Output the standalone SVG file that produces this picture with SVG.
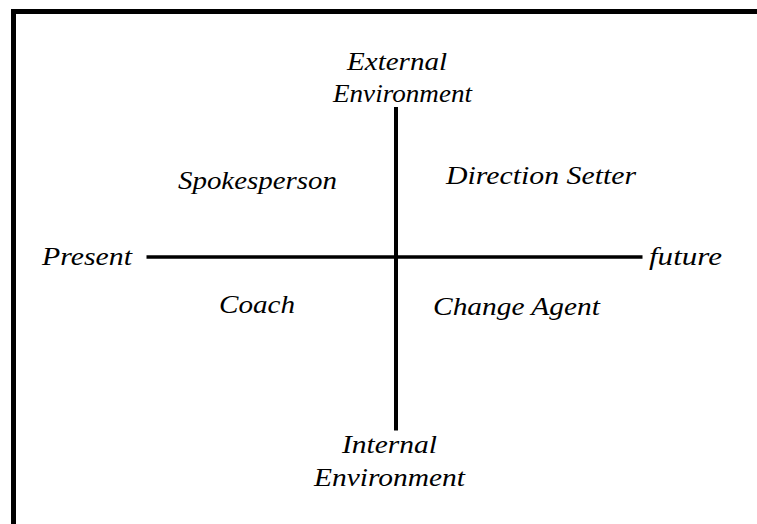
<svg xmlns="http://www.w3.org/2000/svg" width="757" height="524" viewBox="0 0 757 524">
  <style>
    .lbl { font-family: "Liberation Serif", "Times New Roman", serif; font-style: italic; font-size: 26px; fill: #000; }
    .axis { stroke: #000; fill: none; }
  </style>
  <rect width="757" height="524" fill="#fff"/>
  <!-- frame: top and left edges; right and bottom run past the canvas -->
  <path d="M13.5 530 V11.5 H765" fill="none" stroke="#000" stroke-width="5"/>

  <g id="axes">
    <line class="axis" x1="146.5" y1="257" x2="642.5" y2="257" stroke-width="3.6"/>
    <line class="axis" x1="396" y1="107" x2="396" y2="430.5" stroke-width="4"/>
  </g>

  <g id="external">
    <text class="lbl" x="347" y="70" textLength="100" lengthAdjust="spacingAndGlyphs">External</text>
    <text class="lbl" x="333" y="102" textLength="139" lengthAdjust="spacingAndGlyphs">Environment</text>
  </g>
  <g id="internal">
    <text class="lbl" x="342" y="453" textLength="95" lengthAdjust="spacingAndGlyphs">Internal</text>
    <text class="lbl" x="314" y="486" textLength="151" lengthAdjust="spacingAndGlyphs">Environment</text>
  </g>
  <g id="present">
    <text class="lbl" x="42" y="265" textLength="90" lengthAdjust="spacingAndGlyphs">Present</text>
  </g>
  <g id="future">
    <text class="lbl" x="649" y="265" textLength="73" lengthAdjust="spacingAndGlyphs">future</text>
  </g>
  <g id="spokesperson">
    <text class="lbl" x="178" y="189" textLength="159" lengthAdjust="spacingAndGlyphs">Spokesperson</text>
  </g>
  <g id="direction-setter">
    <text class="lbl" x="446" y="184" textLength="190" lengthAdjust="spacingAndGlyphs">Direction Setter</text>
  </g>
  <g id="coach">
    <text class="lbl" x="219" y="313" textLength="76" lengthAdjust="spacingAndGlyphs">Coach</text>
  </g>
  <g id="change-agent">
    <text class="lbl" x="433" y="315" textLength="167" lengthAdjust="spacingAndGlyphs">Change Agent</text>
  </g>
</svg>
